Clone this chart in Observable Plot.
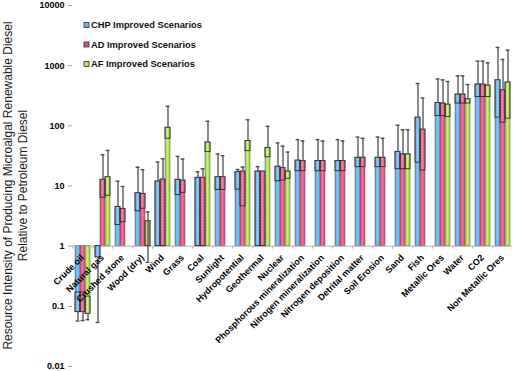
<!DOCTYPE html>
<html><head><meta charset="utf-8">
<script src="https://cdn.jsdelivr.net/npm/d3@7"></script>
<script src="https://cdn.jsdelivr.net/npm/@observablehq/plot@0.6"></script>
<style>
body{margin:0;background:#fff;}
#chart{position:relative;width:520px;height:371px;}
</style></head><body><div id="chart"></div>
<script>
const categories = ["Crude oil","Natural gas","Crushed stone","Wood (dry)","Wind","Grass","Coal","Sunlight","Hydropotential","Geothermal","Nuclear","Phosphorous mineralization","Nitrogen mineralization","Nitrogen deposition","Detrital matter","Soil Erosion","Sand","Fish","Metallic Ores","Water","CO2","Non Metallic Ores"];
const seriesNames = ["CHP Improved Scenarios","AD Improved Scenarios","AF Improved Scenarios"];

// bar end, lower edge of the outlined range box, error bar end
const chpTop   = [0.08, 0.65, 4.5, 7.6, 11.9, 12.7, 13.7, 14, 17, 17.4, 21, 26.5, 26, 26, 29.5, 29.5, 37, 137, 240, 331, 486, 573];
const chpLow   = [0.17, 1, 2.25, 3.8, 1, 7.1, 1, 8.6, 8.7, 1, 12, 17.6, 17.6, 17.6, 20.6, 20.6, 19, 24.4, 146, 235, 302, 137];
const chpErr   = [0.057, 0.054, 12, 20.5, 25, 31, 17.2, 34, 18.8, 21, 52, 59, 59, 59, 65, 65, 102, 505, 600, 676, 1188, 2010];
const chpErrLo = [null, null, null, null, null, null, null, null, null, null, null, null, null, null, null, null, null, null, null, null, null, null];

const adTop   = [0.08, 12.7, 4.17, 7.4, 12.8, 12.3, 13.7, 14, 17.4, 17.4, 19.8, 26, 26, 26, 29.5, 29.5, 33.5, 86.5, 235, 331, 486, 390];
const adLow   = [0.17, 6.4, 2.5, 4.2, 1, 7.7, 1, 8.6, 4.6, 1, 12.3, 17.6, 17.6, 17.6, 20.6, 20.6, 19, 18.1, 146, 235, 302, 113];
const adErr   = [0.058, 33, 9.8, 18.6, 28.4, 28, 19.3, 32, 20.6, null, 46, 56, 56, 56, 62, 62, 86, 290, 580, 676, 1188, 1268];
const adErrLo = [null, null, null, null, null, null, null, null, null, null, null, null, null, null, null, null, null, null, null, null, null, null];

const afTop   = [0.075, 14, null, 2.6, 93, null, 53, null, 55.8, 43, 17.4, null, null, null, null, null, 33.5, null, 225, 276, 467, 525];
const afLow   = [0.145, 6.9, null, 1, 61, null, 36.6, null, 38, 30, 13.2, null, null, null, null, null, 19, null, 140, 235, 302, 132];
const afErr   = [0.06, 39, null, 3.7, 211, null, 119, null, 126, 98, 36.6, null, null, null, null, null, 86, null, 545, 486, 1113, 1812];
const afErrLo = [null, null, null, 0.54, null, null, null, null, null, null, null, null, null, null, null, null, null, null, null, null, null, null];

const yTicks = [0.01, 0.1, 1, 10, 100, 1000, 10000];
const yTickLabels = ["0.01", "0.1", "1", "10", "100", "1000", "10000"];
const yTitle = ["Resource Intensity of Producing Microalgal Renewable Diesel", "Relative to Petroleum Diesel"];

const gradStops = [
  ["#3b86d2", "#8ccaf6", "#4d9be0"],
  ["#cf1f58", "#ff7aa2", "#dc2d66"],
  ["#82bf2a", "#cdf27e", "#8fcc35"]
];
const legendFill = ["#6cb6f0", "#ec4a7e", "#b2e35c"];

const seriesData = [
  {name: seriesNames[0], top: chpTop, low: chpLow, err: chpErr, errLo: chpErrLo},
  {name: seriesNames[1], top: adTop, low: adLow, err: adErr, errLo: adErrLo},
  {name: seriesNames[2], top: afTop, low: afLow, err: afErr, errLo: afErrLo}
];
const rows = [];
seriesData.forEach(s => categories.forEach((c, i) => {
  if (s.top[i] != null) rows.push({cat: c, series: s.name, top: s.top[i], low: s.low[i], err: s.err[i], errLo: s.errLo[i]});
}));

const W = 520, H = 371, mL = 66, mR = 2;
const step = (W - mL - mR) / categories.length / 4;

const marks = [
  Plot.ruleY([1], {stroke: "#b4b4b4", strokeWidth: 1}),
  Plot.ruleX(categories, {fx: d => d, x: () => seriesNames[0], y1: () => 1, y2: () => 0.89, dx: -step, stroke: "#b4b4b4"})
];
seriesNames.forEach((name, k) => {
  marks.push(Plot.rectY(rows.filter(d => d.series === name), {
    fx: "cat", x: "series", y1: () => 1, y2: "top",
    fill: `url(#grad${k})`, stroke: "#7a7a7a", strokeWidth: 0.6
  }));
});
marks.push(Plot.rectY(rows.filter(d => d.low != null && d.low !== d.top), {
  fx: "cat", x: "series", y1: "low", y2: "top", fill: "url(#hatch)", stroke: "#2a2a2a", strokeWidth: 0.9
}));
const errRows = rows.filter(d => d.err != null);
marks.push(Plot.ruleX(errRows, {fx: "cat", x: "series", y1: d => d.errLo ?? d.top, y2: "err", stroke: "#5a5a5a", strokeWidth: 1.4}));
marks.push(Plot.tickY(errRows, {fx: "cat", x: "series", y: "err", stroke: "#4a4a4a", strokeWidth: 1.4, insetLeft: 0.6, insetRight: 0.6}));
marks.push(Plot.tickY(rows.filter(d => d.errLo != null), {fx: "cat", x: "series", y: "errLo", stroke: "#4a4a4a", strokeWidth: 1.4, insetLeft: 0.6, insetRight: 0.6}));
marks.push(Plot.text(categories, {
  fx: d => d, y: () => 1, text: d => d, rotate: -45, textAnchor: "end",
  dx: 0, dy: 10, fontWeight: "bold", fontSize: 9, fill: "#000"
}));
marks.push(Plot.axisY({
  ticks: yTicks, tickFormat: d => yTickLabels[yTicks.indexOf(d)],
  tickSize: 4, tickPadding: 4, stroke: "#a0a0a0", fill: "#000",
  fontWeight: "bold", fontSize: 9, label: null, line: true, facetAnchor: "left"
}));

const plot = Plot.plot({
  width: W, height: H,
  marginLeft: mL, marginRight: mR, marginTop: 5, marginBottom: 5,
  style: {fontFamily: "'Liberation Sans', Arial, sans-serif", fontSize: "9px", background: "#fff"},
  fx: {domain: categories, padding: 0, axis: null, label: null},
  x: {domain: seriesNames, paddingInner: 0, paddingOuter: 0.5, axis: null},
  y: {type: "log", domain: [0.01, 10000]},
  marks
});

const svg = d3.select(plot);
const defs = svg.insert("defs", ":first-child");
gradStops.forEach((stops, k) => {
  const g = defs.append("linearGradient").attr("id", `grad${k}`)
    .attr("x1", "0").attr("x2", "1").attr("y1", "0").attr("y2", "0");
  g.append("stop").attr("offset", "0%").attr("stop-color", stops[0]);
  g.append("stop").attr("offset", "45%").attr("stop-color", stops[1]);
  g.append("stop").attr("offset", "100%").attr("stop-color", stops[2]);
});
const pat = defs.append("pattern").attr("id", "hatch").attr("patternUnits", "userSpaceOnUse")
  .attr("width", 3).attr("height", 3);
pat.append("rect").attr("width", 3).attr("height", 3).attr("fill", "rgba(255,255,255,0.06)");
pat.append("rect").attr("width", 1).attr("height", 1).attr("fill", "rgba(255,255,255,0.22)");

// y title
yTitle.forEach((t, i) => {
  svg.append("text").attr("transform", `translate(${11.5 + 15 * i},185.5) rotate(-90)`)
    .attr("text-anchor", "middle").attr("font-size", 12).attr("fill", "#1a1a1a")
    .attr("font-family", "'Liberation Sans', Arial, sans-serif").text(t);
});
// legend
seriesNames.forEach((name, k) => {
  const cy = 25 + 19.5 * k;
  svg.append("rect").attr("x", 84).attr("y", cy - 2.5).attr("width", 5).attr("height", 5)
    .attr("fill", legendFill[k]).attr("stroke", "#333").attr("stroke-width", 0.8);
  svg.append("text").attr("x", 91).attr("y", cy + 3.3).attr("font-size", 9.3).attr("font-weight", "bold")
    .attr("text-anchor", "start")
    .attr("fill", "#111").attr("font-family", "'Liberation Sans', Arial, sans-serif").text(name);
});

document.getElementById("chart").appendChild(plot);
</script>
</body></html>
